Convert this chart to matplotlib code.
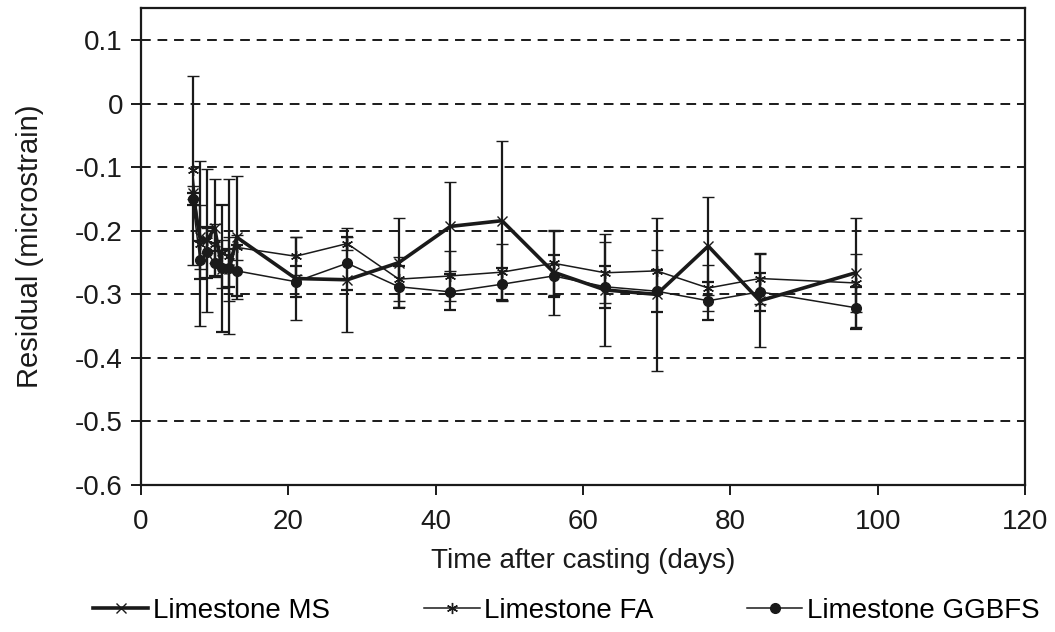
import numpy as np
import matplotlib
matplotlib.use('Agg')
import matplotlib.pyplot as plt
from matplotlib.lines import Line2D

plt.rcParams['font.family'] = ['Liberation Sans', 'DejaVu Sans']

days = [7, 8, 9, 10, 11, 12, 13, 21, 28, 35, 42, 49, 56, 63, 70, 77, 84, 97]

ms = [-0.14, -0.21, -0.215, -0.195, -0.26, -0.26, -0.21, -0.275, -0.277, -0.25,
      -0.193, -0.184, -0.265, -0.293, -0.3, -0.224, -0.31, -0.266]
ms_err = [0.01, 0.05, 0.02, 0.077, 0.03, 0.05, 0.097, 0.065, 0.082, 0.07,
          0.07, 0.125, 0.067, 0.088, 0.121, 0.077, 0.073, 0.086]

fa = [-0.105, -0.22, -0.215, -0.22, -0.235, -0.24, -0.226, -0.24, -0.22, -0.276,
      -0.271, -0.265, -0.251, -0.266, -0.263, -0.29, -0.275, -0.282]
fa_err = [0.148, 0.13, 0.113, 0.03, 0.02, 0.122, 0.02, 0.03, 0.01, 0.035,
          0.04, 0.045, 0.05, 0.048, 0.033, 0.036, 0.04, 0.045]

gg = [-0.15, -0.246, -0.234, -0.251, -0.259, -0.259, -0.263, -0.28, -0.251, -0.288,
      -0.296, -0.284, -0.271, -0.288, -0.295, -0.31, -0.296, -0.321]
gg_err = [0.01, 0.03, 0.04, 0.02, 0.1, 0.03, 0.04, 0.024, 0.042, 0.033,
          0.028, 0.025, 0.033, 0.033, 0.033, 0.03, 0.03, 0.033]

labels = ['Limestone MS', 'Limestone FA', 'Limestone GGBFS']

fig = plt.figure(figsize=(10.55, 6.32), dpi=100)
ax = fig.add_axes([0.1336, 0.2326, 0.838, 0.754])

col = '#1a1a1a'
styles = [dict(lw=2.6, marker='x', ms=7, mew=1),
          dict(lw=1.1, marker=(6, 2, 0), ms=8, mew=1),
          dict(lw=1.1, marker='o', ms=7)]
for yv, err, st in zip([ms, fa, gg], [ms_err, fa_err, gg_err], styles):
    ax.errorbar(days, yv, yerr=err, color=col, ecolor=col, elinewidth=1.6,
                capsize=4, capthick=1.6, zorder=3, **st)

ax.set_xlim(0, 120)
ax.set_ylim(-0.6, 0.15)
ax.set_xticks(np.arange(0, 121, 20))
ax.set_yticks(np.arange(-0.6, 0.11, 0.1))
ax.set_yticklabels(['-0.6', '-0.5', '-0.4', '-0.3', '-0.2', '-0.1', '0', '0.1'])
for yv in np.arange(-0.5, 0.11, 0.1):
    ax.axhline(yv, color=col, lw=1.4, ls=(0, (5, 3.5)), zorder=1)

for s in ax.spines.values():
    s.set_linewidth(1.6)
    s.set_color(col)
ax.tick_params(direction='out', length=7, width=1.4, labelsize=20, colors=col, pad=6)
ax.tick_params(axis='x', pad=10)

ax.set_xlabel('Time after casting (days)', fontsize=20, color=col, labelpad=10)
ax.set_ylabel('Residual (microstrain)', fontsize=21, color=col, labelpad=22)

# one legend entry per position, like the original layout
leg_x = [0.088, 0.402, 0.708]
for x, lab, st in zip(leg_x, labels, styles):
    h = Line2D([], [], color=col, **st)
    fig.legend(handles=[h], labels=[lab], loc='center left', bbox_to_anchor=(x, 0.033),
               frameon=False, fontsize=20, handlelength=2.0, handletextpad=0.15,
               borderpad=0, borderaxespad=0)

plt.savefig('out.png', dpi=100)
